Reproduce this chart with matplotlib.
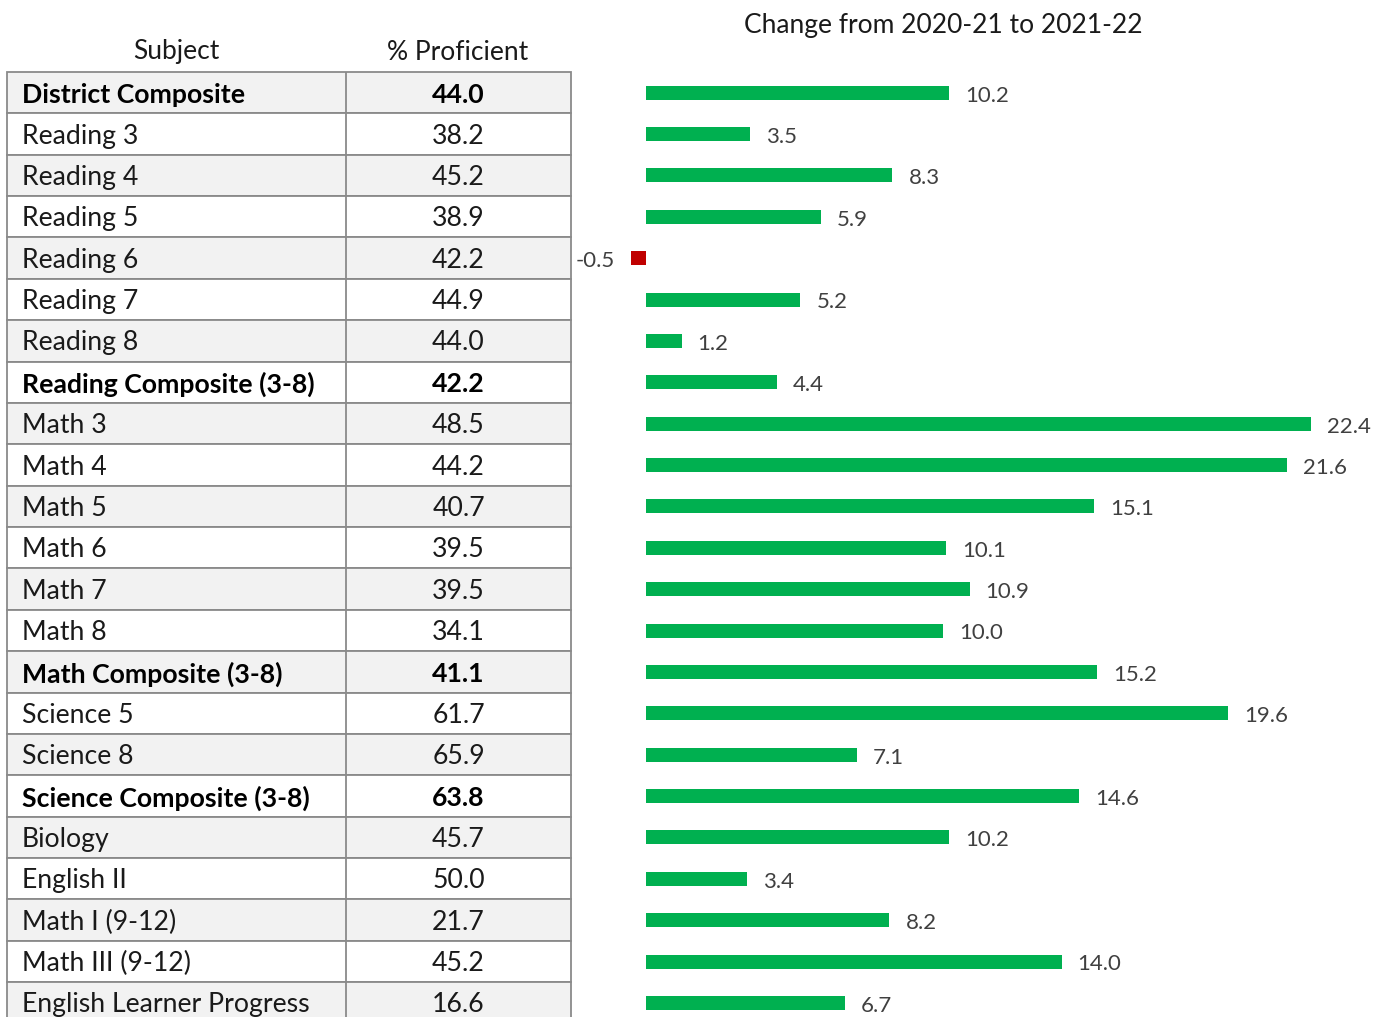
import matplotlib
matplotlib.use("Agg")
import matplotlib.pyplot as plt
from matplotlib.patches import Rectangle

plt.rcParams['font.family'] = ['Lato', 'DejaVu Sans']

subjects = ["District Composite", "Reading 3", "Reading 4", "Reading 5", "Reading 6",
            "Reading 7", "Reading 8", "Reading Composite (3-8)", "Math 3", "Math 4",
            "Math 5", "Math 6", "Math 7", "Math 8", "Math Composite (3-8)",
            "Science 5", "Science 8", "Science Composite (3-8)", "Biology",
            "English II", "Math I (9-12)", "Math III (9-12)", "English Learner Progress"]
proficient = [44.0, 38.2, 45.2, 38.9, 42.2, 44.9, 44.0, 42.2, 48.5, 44.2, 40.7,
              39.5, 39.5, 34.1, 41.1, 61.7, 65.9, 63.8, 45.7, 50.0, 21.7, 45.2, 16.6]
change = [10.2, 3.5, 8.3, 5.9, -0.5, 5.2, 1.2, 4.4, 22.4, 21.6, 15.1, 10.1, 10.9,
          10.0, 15.2, 19.6, 7.1, 14.6, 10.2, 3.4, 8.2, 14.0, 6.7]
bold_rows = {"District Composite", "Reading Composite (3-8)",
             "Math Composite (3-8)", "Science Composite (3-8)"}

W, H = 1383, 1017
fig = plt.figure(figsize=(W / 100, H / 100), dpi=100)

n = len(subjects)
top_px = 72
row_h = 41.36
ylim = ((H - 93) / row_h, -0.5)
ax_bottom = 0.0
ax_height = (H - top_px) / H

# ---- table axes ----
tab = fig.add_axes([0, ax_bottom, 572 / W, ax_height])
tab.set_xlim(0, 572)
tab.set_ylim(*ylim)
tab.axis("off")
x_left, x_mid, x_right = 7, 346, 571
border = "#8a8a8a"
for i, (s, v) in enumerate(zip(subjects, proficient)):
    fc = "#f2f2f2" if i % 2 == 0 else "white"
    tab.add_patch(Rectangle((x_left, i - 0.5), x_right - x_left, 1, facecolor=fc,
                            edgecolor=border, linewidth=1.3, clip_on=False))
    tab.plot([x_mid, x_mid], [i - 0.5, i + 0.5], color=border, lw=1.3,
             solid_capstyle="butt", clip_on=False)
    wt = "bold" if s in bold_rows else "normal"
    col = "black" if s in bold_rows else "#1a1a1a"
    tab.text(22, i + 0.05, s, ha="left", va="center", fontsize=19.2, fontweight=wt,
             color=col)
    tab.text((x_mid + x_right) / 2, i + 0.05, f"{v:.1f}", ha="center", va="center",
             fontsize=19.2, fontweight=wt, color=col)

fig.text(176 / W, 1 - 52 / H, "Subject", ha="center", va="center", fontsize=19,
         color="#1a1a1a")
fig.text(458 / W, 1 - 52 / H, "% Proficient", ha="center", va="center",
         fontsize=19, color="#1a1a1a")

# ---- bar axes ----
scale = (1311 - 646) / 22.4
x0_px, x1_px = 572, W
bx = fig.add_axes([x0_px / W, ax_bottom, (x1_px - x0_px) / W, ax_height])
bx.set_xlim((x0_px - 646) / scale, (x1_px - 646) / scale)
bx.set_ylim(*ylim)
bx.axis("off")
colors = ["#00b050" if c >= 0 else "#c00000" for c in change]
ypos = list(range(n))
bx.barh(ypos, change, height=0.34, color=colors)
for y, c in zip(ypos, change):
    if c >= 0:
        bx.annotate(f"{c:.1f}", (c, y + 0.07), xytext=(11.5, 0),
                    textcoords="offset points", ha="left", va="center",
                    fontsize=16, color="#404040")
    else:
        bx.annotate(f"{c:.1f}", (c, y + 0.07), xytext=(-12, 0),
                    textcoords="offset points", ha="right", va="center",
                    fontsize=16, color="#404040")

fig.text(943 / W, 1 - 25 / H, "Change from 2020-21 to 2021-22", ha="center",
         va="center", fontsize=19, color="#1a1a1a")

fig.savefig("out.png", dpi=100)
